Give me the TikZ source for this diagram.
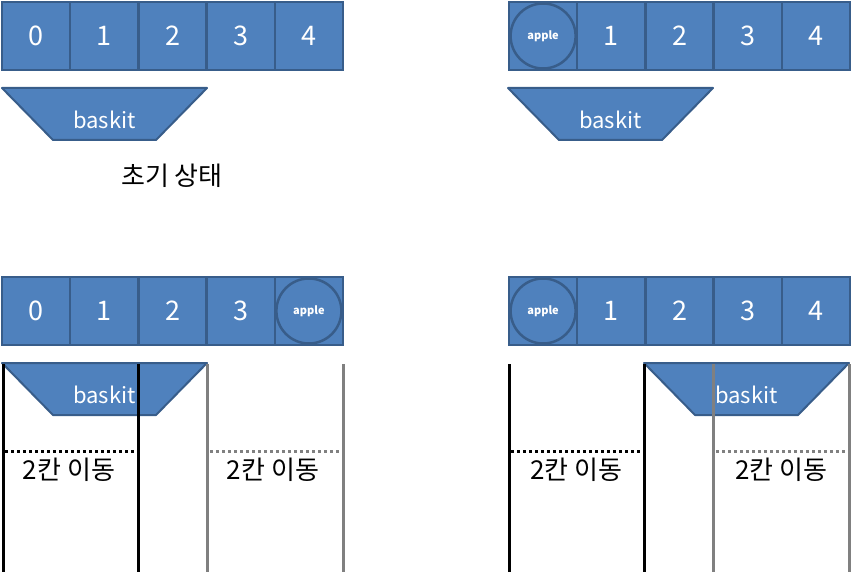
\documentclass[tikz,border=0pt]{standalone}
\usepackage{fontspec}
\setmainfont{Noto Sans CJK KR}
\definecolor{cellfill}{HTML}{4F81BD}
\definecolor{celledge}{HTML}{385D8A}

\begin{document}
\begin{tikzpicture}[
  x=1pt, y=-1pt,
  cell/.style    = {draw=celledge, fill=cellfill, line width=2.5pt, inner sep=0pt,
                    minimum width=68.2pt, minimum height=68pt, text=white,
                    font=\fontsize{27}{30}\selectfont},
  apple/.style   = {circle, draw=celledge, fill=cellfill, line width=2.5pt, inner sep=0pt,
                    minimum size=65pt, text=white, font=\fontsize{11}{13}\selectfont\bfseries},
  basket/.style  = {draw=celledge, fill=cellfill, line width=2pt, line join=round},
  btext/.style   = {text=white, font=\fontsize{22}{24}\selectfont},
  wall/.style    = {line width=3pt},          % where the basket stands
  farwall/.style = {line width=3pt, gray},    % where it may go next
  move/.style    = {line width=3pt, dash pattern=on 3pt off 3pt},
  note/.style    = {font=\fontsize{26}{30}\selectfont},
]
  \useasboundingbox (0,0) rectangle (851,572);

  % initial state
  \node[cell] (a0) at (36.1,36) {0};
  \node[cell] (a1) at (104.3,36) {1};
  \node[cell] (a2) at (172.5,36) {2};
  \node[cell] (a3) at (240.7,36) {3};
  \node[cell] (a4) at (308.9,36) {4};
  \draw[basket] (2,88) -- (207,88) -- (156,140) -- (53,140) -- cycle;
  \node[btext] (bka) at (104.5,120) {baskit};
  \node[note] (init) at (172,176) {초기 상태};

  % apple in the first cell
  \node[cell] (b0) at (543.1,36) {};
  \node[cell] (b1) at (611.3,36) {1};
  \node[cell] (b2) at (679.5,36) {2};
  \node[cell] (b3) at (747.7,36) {3};
  \node[cell] (b4) at (815.9,36) {4};
  \node[apple] (pb) at (b0.center) {apple};
  \draw[basket] (508,88) -- (713,88) -- (662,140) -- (559,140) -- cycle;
  \node[btext] (bkb) at (610.5,120) {baskit};

  % apple in the last cell
  \node[cell] (c0) at (36.1,311) {0};
  \node[cell] (c1) at (104.3,311) {1};
  \node[cell] (c2) at (172.5,311) {2};
  \node[cell] (c3) at (240.7,311) {3};
  \node[cell] (c4) at (308.9,311) {};
  \node[apple] (pc) at (c4.center) {apple};
  \draw[basket] (2,363) -- (207,363) -- (156,415) -- (53,415) -- cycle;
  \node[btext] (bkc) at (104.5,395) {baskit};

  \draw[wall] (3,364) -- (3,572);
  \draw[wall] (138,364) -- (138,572);
  \draw[farwall] (207,364) -- (207,572);
  \draw[farwall] (343,364) -- (343,572);
  \draw[move] (5,451) -- (136,451);
  \draw[move, gray] (210,451) -- (342,451);
  \node[note] (mc1) at (69,470) {2칸 이동};
  \node[note] (mc2) at (273,470) {2칸 이동};

  % apple in the first cell, basket moved right
  \node[cell] (d0) at (543.1,311) {};
  \node[cell] (d1) at (611.3,311) {1};
  \node[cell] (d2) at (679.5,311) {2};
  \node[cell] (d3) at (747.7,311) {3};
  \node[cell] (d4) at (815.9,311) {4};
  \node[apple] (pd) at (d0.center) {apple};
  \draw[basket] (644,363) -- (849,363) -- (798,415) -- (695,415) -- cycle;
  \node[btext] (bkd) at (746.5,395) {baskit};

  \draw[wall] (509,364) -- (509,572);
  \draw[wall] (644,364) -- (644,572);
  \draw[farwall] (713,364) -- (713,572);
  \draw[farwall] (849,364) -- (849,572);
  \draw[move] (511,451) -- (642,451);
  \draw[move, gray] (716,451) -- (848,451);
  \node[note] (md1) at (576,470) {2칸 이동};
  \node[note] (md2) at (781,470) {2칸 이동};
\end{tikzpicture}
\end{document}
